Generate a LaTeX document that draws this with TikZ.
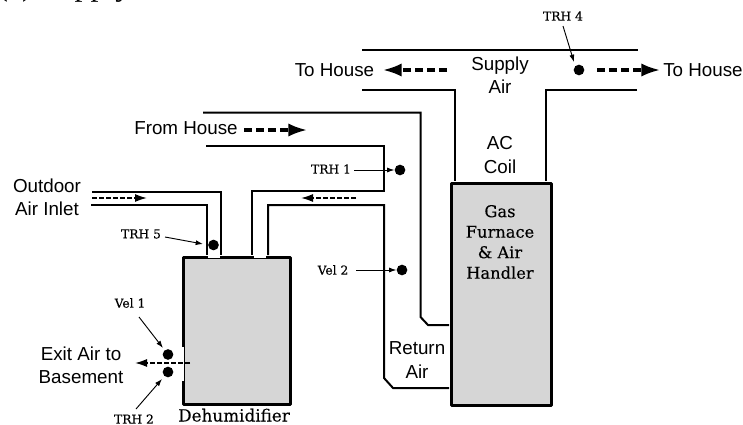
\documentclass[tikz,border=0pt]{standalone}
\usepackage{fontspec}
\setmainfont{Liberation Sans}
\newfontfamily\slab[FakeBold=0.25]{DejaVu Serif}
\newfontfamily\capt{Liberation Serif}
\usetikzlibrary{arrows.meta}
\definecolor{fillgray}{HTML}{D6D6D6}
\tikzset{
  x=0.75pt,y=-0.75pt,
  duct/.style={line width=1.5pt,line join=miter},
  wall/.style={line width=2.1pt,line join=round},
  sans/.style={inner sep=0pt,font=\fontsize{14.1}{17.3}\selectfont,align=center},
  slabl/.style={inner sep=0pt,font=\slab\fontsize{12.2}{15.4}\selectfont,align=center},
  tag/.style={inner sep=0pt,font=\slab\fontsize{9.2}{11}\selectfont},
  dot/.style={circle,fill=black,inner sep=0pt,minimum size=8pt},
  bigflow/.style={line width=2.3pt,dash pattern=on 6pt off 3pt,-{Latex[length=14pt,width=10pt]}},
  smallflow/.style={line width=1.2pt,dash pattern=on 3.4pt off 1.9pt,-{Latex[length=9pt,width=6pt]}},
  lead/.style={line width=0.7pt,-{Latex[length=5.5pt,width=3.8pt]}},
}
\begin{document}
\begin{tikzpicture}
\useasboundingbox (0,0) rectangle (743,425);
\begin{scope}
\clip (0,0) rectangle (743,425);
\node[anchor=base west,inner sep=0pt,font=\capt\fontsize{24}{28}\selectfont] (captn) at (-3,-5) {(c) Supply};
\end{scope}
% Equipment
\node[draw,wall,fill=fillgray,minimum width=80.2pt,minimum height=110.2pt,anchor=north west,inner sep=0pt] (dehum) at (182,256) {};
\node[draw,wall,fill=fillgray,minimum width=75pt,minimum height=166.5pt,anchor=north west,inner sep=0pt] (furn) at (450,182) {};
% openings
\draw[line width=2.8pt,white] (208,256) -- (220,256);
\draw[line width=2.8pt,white] (254,256) -- (266,256);
\draw[line width=2.8pt,white] (182,347) -- (182,381);
% Ducts
\draw[duct] (362,49.5) -- (638,49.5);
\draw[duct] (362,89.5) -- (455,89.5) -- (455,181);
\draw[duct] (637,89.5) -- (546,89.5) -- (546,181);
\draw[duct] (203,112.5) -- (420.5,112.5) -- (420.5,317) -- (428,325) -- (449,325);
\draw[duct] (206,145.5) -- (384,145.5) -- (384,190.5) -- (252,190.5) -- (252,255);
\draw[duct] (268,255) -- (268,205) -- (384,205) -- (384,378) -- (393,388) -- (449,388);
\draw[duct] (92,192) -- (220.5,192) -- (220.5,255);
\draw[duct] (91,205) -- (206.5,205) -- (206.5,255);
% Labels
\node[sans,anchor=base] (tohl) at (334.5,76) {To House};
\node[sans,anchor=base] (tohr) at (703,76) {To House};
\node[sans] (sup) at (500,75) {Supply\\Air};
\node[sans] (ac) at (500,155) {AC\\Coil};
\node[sans,anchor=base] (fromh) at (186,134) {From House};
\node[sans] (outd) at (47,197) {Outdoor\\Air Inlet};
\node[sans] (exit) at (81,365) {Exit Air to\\Basement};
\node[sans] (ret) at (417,360) {Return\\Air};
\node[slabl] (gas) at (500,242) {Gas\\Furnace\\\& Air\\Handler};
\node[inner sep=0pt,anchor=base,font=\slab\fontsize{12.6}{14}\selectfont] (dh) at (234,421.5) {Dehumidifier};
% Sensors
\node[dot] (t1) at (400,170) {};
\node[dot] (v2) at (402,270) {};
\node[dot] (t4) at (579,70) {};
\node[dot] (t5) at (213.5,245) {};
\node[dot] (v1) at (168,354.5) {};
\node[dot] (t2) at (168,372) {};
\node[tag] (lt1) at (331,169) {TRH 1};
\node[tag] (lv2) at (333,270) {Vel 2};
\node[tag] (lt4) at (563,16) {TRH 4};
\node[tag] (lt5) at (141,234) {TRH 5};
\node[tag] (lv1) at (130,303) {Vel 1};
\node[tag] (lt2) at (134,419) {TRH 2};
\draw[lead] (354,170) -- (t1.west);
\draw[lead] (356,270) -- (v2.west);
\draw[lead] (563,26) -- (574,62);
\draw[lead] (165,237) -- (203,244);
\draw[lead] (139,317) -- (163,348);
\draw[lead] (136,409) -- (162,379);
% Flows
\coordinate (a1) at (447,70); \coordinate (a2) at (383,70);
\draw[bigflow] (a1) -- (a2);
\coordinate (b1) at (597,70); \coordinate (b2) at (660,70);
\draw[bigflow] (b1) -- (b2);
\coordinate (c1) at (244,130); \coordinate (c2) at (307,130);
\draw[bigflow] (c1) -- (c2);
\coordinate (d1) at (92,198); \coordinate (d2) at (147,198);
\draw[smallflow] (d1) -- (d2);
\coordinate (e1) at (356,198); \coordinate (e2) at (301,198);
\draw[smallflow] (e1) -- (e2);
\coordinate (f1) at (190,363); \coordinate (f2) at (135,363);
\draw[smallflow] (f1) -- (f2);
\end{tikzpicture}
\end{document}
